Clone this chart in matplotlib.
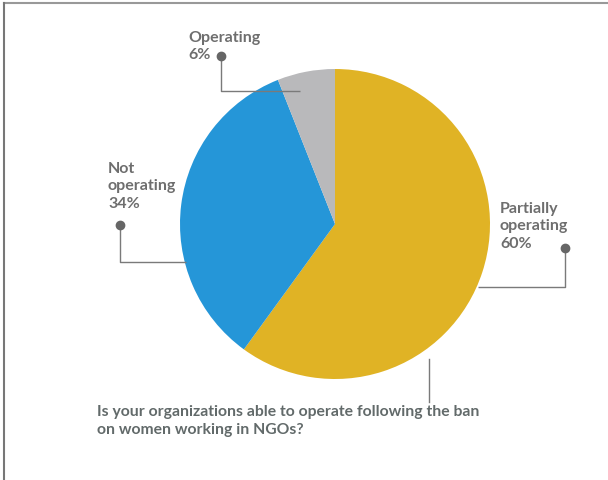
import matplotlib
matplotlib.use("Agg")
import matplotlib.pyplot as plt

labels = ["Partially\noperating\n60%", "Not\noperating\n34%", "Operating\n6%"]
values = [60, 34, 6]
colors = ["#E0B325", "#2596D8", "#B9B9BB"]
question = "Is your organizations able to operate following the ban\non women working in NGOs?"

W, H = 608, 481
fig = plt.figure(figsize=(W / 100, H / 100), dpi=100)
ax = fig.add_axes([0, 0, 1, 1])

def Y(y):
    return H - y

ax.pie(values, colors=colors, startangle=90, counterclock=False,
       center=(335, Y(225)), radius=155, frame=True,
       wedgeprops=dict(linewidth=0))
ax.set_xlim(0, W)
ax.set_ylim(0, H)
ax.set_aspect("equal")
ax.axis("off")

lc = "#7a7a7a"
tc = "#6e6e6e"
font = "Lato"

# leader lines (pixel coords)
leaders = [
    [(221, 57), (221, 92), (300, 92)],      # Operating
    [(120, 226), (120, 263), (186, 263)],   # Not operating
    [(565, 249), (565, 288), (478, 288)],   # Partially operating
]
for pts in leaders:
    xs = [p[0] for p in pts]
    ys = [Y(p[1]) for p in pts]
    ax.plot(xs, ys, color=lc, lw=1.0, solid_capstyle="butt")
    ax.plot(xs[0], ys[0], "o", color="#666666", ms=6)

ax.plot([429, 429], [Y(360), Y(403)], color=lc, lw=1.0)

kw = dict(ha="left", va="top", fontsize=11.5, fontweight="bold",
          color=tc, family=font, linespacing=1.3)
ax.text(188, Y(31), labels[2], **kw)
ax.text(108, Y(162), labels[1], **kw)
ax.text(500, Y(202), labels[0], **kw)

ax.text(97, Y(405), question, ha="left", va="top", fontsize=11.3, fontweight="bold",
        color="#626a6a", family=font, linespacing=1.4)

# frame lines (top and left)
fig.add_artist(plt.Line2D([3.5 / W, 1], [1 - 3.5 / H, 1 - 3.5 / H], color="#999999", lw=1.5,
                          transform=fig.transFigure))
fig.add_artist(plt.Line2D([3.5 / W, 3.5 / W], [0, 1 - 3.5 / H], color="#777777", lw=1.5,
                          transform=fig.transFigure))

fig.savefig("out.png", dpi=100, facecolor="white")
